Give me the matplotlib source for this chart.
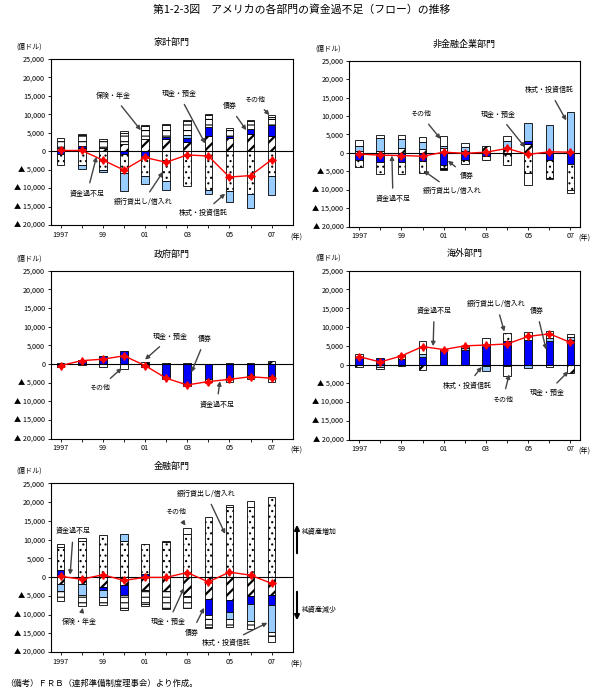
import numpy as np
import matplotlib.pyplot as plt
from matplotlib.patches import FancyArrowPatch

plt.rcParams['font.family'] = ['Noto Sans CJK JP', 'DejaVu Sans']
plt.rcParams['hatch.linewidth'] = 0.8

years = list(range(1997, 2008))
tick_labels = ['1997', '', '99', '', '01', '', '03', '', '05', '', '07']
series_names = ['現金・預金', '債券', '銀行貸出し/借入れ', '株式・投資信託', '保険・年金', 'その他']

# 家計部門
hh_cash = [1000, 800, 800, 2000, 3300, 3200, 2500, 4000, 3500, 4600, 4200]
hh_bond = [-800, 500, 0, -800, -1200, 700, 1000, 2500, 500, 1400, 2900]
hh_loan = [-2800, -3800, -5100, -5200, -5600, -8200, -9500, -10400, -10700, -11700, -6700]
hh_equity = [0, -900, -500, -4800, -2000, -2200, 1000, -1300, -3100, -3600, -5300]
hh_insur = [2700, 3000, 2400, 3000, 3500, 3100, 3600, 3400, 2400, 2200, 2200]
hh_other = [0, 500, 0, 400, 200, 300, 300, 300, 0, 200, 400]
hh_net = [200, 200, -2400, -5100, -1700, -3000, -1000, -1300, -7000, -6600, -2300]

# 非金融企業部門
nf_cash = [600, 600, 1400, 1100, 1300, 400, 2000, 1300, 2300, 0, 0]
nf_bond = [-1900, -2500, -2500, -2100, -3400, -1800, -800, -400, 800, -1900, -3000]
nf_loan = [-1800, -3100, -3100, -3300, -700, -1200, -1000, -3000, -5400, -4900, -7000]
nf_equity = [1300, 3500, 2400, 1800, 700, 1300, 0, 1900, 5100, 7600, 11000]
nf_insur = [0, 0, 0, 0, -500, 0, 0, 0, 0, 0, 0]
nf_other = [1600, 800, 1100, 1500, 2700, 1000, 0, 1400, -3200, -300, -800]
nf_net = [-300, -600, -700, -900, 200, -100, 200, 1200, -400, 300, 200]

# 政府部門
gv_cash = [0, 0, 0, 0, 500, 200, 200, 100, 400, 200, 900]
gv_bond = [-700, 1100, 2100, 3500, -900, -3600, -5500, -4000, -4000, -3000, -3100]
gv_loan = [0] * 11
gv_equity = [0] * 11
gv_insur = [0] * 11
gv_other = [300, -200, -800, -1300, 0, -400, -300, -800, -800, -900, -1800]
gv_net = [-400, 900, 1300, 2200, -400, -3800, -5600, -4700, -4100, -3400, -3800]

# 海外部門
fr_cash = [-600, 0, -400, -1500, -100, 0, -400, -500, 0, -600, -2200]
fr_bond = [2000, 1800, 1600, 2000, 3700, 3800, 4900, 6400, 6600, 6200, 6600]
fr_loan = [0, 0, 0, 0, 0, 0, 0, 2000, 0, 0, 0]
fr_equity = [0, -600, 0, 900, 0, 500, -1400, 0, -800, 800, 700]
fr_insur = [0] * 11
fr_other = [800, -500, 1000, 3500, 400, 600, 2300, -2500, 2100, 2000, 900]
fr_net = [2100, 700, 2300, 4800, 4000, 5000, 5200, 5500, 7500, 8200, 5900]

# 金融部門
fn_cash = [-1800, -1900, -2700, -2200, -3400, -3800, -5000, -5800, -6000, -5000, -4700]
fn_bond = [1900, 0, -800, -2700, 800, 0, 0, -4400, -3300, -2300, -2800]
fn_loan = [6100, 9700, 11300, 9600, 8100, 9400, 11500, 16000, 18700, 18800, 21300]
fn_equity = [-1900, -2800, -1800, 1900, 0, 0, 0, 0, -1900, -4500, -7100]
fn_insur = [-2800, -3100, -2100, -4000, -3800, -4600, -3200, -3000, -2100, -2000, -1000]
fn_other = [800, 600, 0, 0, -500, 200, 1500, -300, 400, 1400, -1700]
fn_net = [200, -600, 600, -900, -100, -100, 1200, -1300, 1300, 500, -1700]

# 現金・預金, 債券, 銀行貸出し, 株式, 保険, その他
styles = [
    dict(color='white', hatch='///', hlw=1.6),
    dict(color='#0000FF', hatch=None, hlw=0.8),
    dict(color='white', hatch='...', hlw=0.8),
    dict(color='#99CCFF', hatch=None, hlw=0.8),
    dict(color='white', hatch='---', hlw=0.8),
    dict(color='white', hatch=None, hlw=0.8),
]


def draw_panel(ax, title, comps, net, xlim, notes):
    x = np.arange(len(years))
    pos = np.zeros(len(years))
    neg = np.zeros(len(years))
    for vals, st in zip(comps, styles):
        for i, v in enumerate(vals):
            if v == 0:
                continue
            if v > 0:
                b = pos[i]
                pos[i] += v
            else:
                b = neg[i]
                neg[i] += v
            with plt.rc_context({'hatch.linewidth': st['hlw']}):
                bars = ax.bar(x[i], v, bottom=b, width=0.36, color=st['color'],
                              hatch=st['hatch'], edgecolor='black', linewidth=0.6, zorder=2)
                for p in bars:
                    if hasattr(p, 'set_hatch_linewidth'):
                        p.set_hatch_linewidth(st['hlw'])
    ax.axhline(0, color='black', lw=0.8, zorder=3)
    ax.plot(x, net, color='red', lw=1.0, marker=(4, 1, 0), ms=5.5, zorder=4)

    ax.set_xlim(*xlim)
    ax.set_ylim(-20000, 25000)
    ax.set_xticks(x)
    ax.set_xticklabels(tick_labels, fontsize=5.2)
    yt = np.arange(-20000, 25001, 5000)
    ax.set_yticks(yt)
    ax.set_yticklabels([f'{v:,}' if v >= 0 else f'▲ {-v:,}' for v in yt], fontsize=5.2)
    ax.tick_params(length=2, width=0.6, pad=2)
    for s in ax.spines.values():
        s.set_linewidth(0.8)

    ax.text(0.5, 1.1, title, transform=ax.transAxes, ha='center', va='center', fontsize=6.5)
    ax.text(-0.09, 1.075, '(億ドル)', transform=ax.transAxes, ha='center', va='center', fontsize=5)
    ax.annotate('(年)', xy=(1.0, 0), xycoords='axes fraction', xytext=(3, -8),
                textcoords='offset points', ha='center', va='center', fontsize=5.2)

    for label, txy, tip in notes:
        ax.annotate(label, xy=tip, xytext=txy, ha='center', va='center', fontsize=5,
                    arrowprops=dict(arrowstyle='-|>', color='#444444', lw=1.0,
                                    mutation_scale=6, shrinkA=3, shrinkB=0),
                    zorder=5)


fig = plt.figure(figsize=(6.04, 6.91), dpi=100)
W, H = 604, 691


def rect(x0, x1, ytop, ybot):
    return [x0 / W, 1 - ybot / H, (x1 - x0) / W, (ybot - ytop) / H]


ax1 = fig.add_axes(rect(50.7, 292.7, 59, 225))
ax2 = fig.add_axes(rect(349, 580, 60.7, 226.7))
ax3 = fig.add_axes(rect(50.7, 292.7, 270.7, 438.7))
ax4 = fig.add_axes(rect(349, 580, 270.7, 439.7))
ax5 = fig.add_axes(rect(50.7, 292.7, 483.3, 652))

left_lim = (-0.47, 11.0)
right_lim = (-0.48, 10.45)

draw_panel(ax1, '家計部門',
           [hh_cash, hh_bond, hh_loan, hh_equity, hh_insur, hh_other], hh_net, left_lim,
           [('保険・年金', (2.5, 15000), (3.8, 5700)),
            ('現金・預金', (5.6, 15500), (6.85, 2100)),
            ('債券', (8.0, 12200), (8.8, 5700)),
            ('その他', (9.2, 13900), (9.9, 9800)),
            ('資金過不足', (1.25, -11500), (1.7, -1500)),
            ('銀行貸出し/借入れ', (3.9, -13800), (4.85, -5600)),
            ('株式・投資信託', (6.75, -16800), (7.8, -11500))])

draw_panel(ax2, '非金融企業部門',
           [nf_cash, nf_bond, nf_loan, nf_equity, nf_insur, nf_other], nf_net, right_lim,
           [('株式・投資信託', (9.0, 17000), (9.8, 8800)),
            ('その他', (2.9, 10500), (3.85, 3800)),
            ('現金・預金', (6.6, 10400), (7.85, 1500)),
            ('債券', (5.1, -6300), (4.2, -2100)),
            ('銀行貸出し/借入れ', (4.4, -10300), (3.05, -4800)),
            ('資金過不足', (1.6, -12500), (1.55, -700))])

draw_panel(ax3, '政府部門',
           [gv_cash, gv_bond, gv_loan, gv_equity, gv_insur, gv_other], gv_net, left_lim,
           [('現金・預金', (5.2, 7200), (4.0, 1200)),
            ('債券', (6.85, 6700), (6.2, -2200)),
            ('その他', (1.85, -6400), (2.9, -1100)),
            ('資金過不足', (7.4, -10900), (7.55, -4600))])

draw_panel(ax4, '海外部門',
           [fr_cash, fr_bond, fr_loan, fr_equity, fr_insur, fr_other], fr_net, right_lim,
           [('資金過不足', (3.55, 14300), (3.5, 4900)),
            ('銀行貸出し/借入れ', (6.5, 16100), (6.87, 8800)),
            ('債券', (8.4, 14300), (8.85, 4000)),
            ('株式・投資信託', (5.1, -5600), (5.8, -600)),
            ('その他', (6.8, -9300), (7.1, -2600)),
            ('現金・預金', (8.9, -7500), (9.9, -1800))])

draw_panel(ax5, '金融部門',
           [fn_cash, fn_bond, fn_loan, fn_equity, fn_insur, fn_other], fn_net, left_lim,
           [('銀行貸出し/借入れ', (6.9, 22200), (7.8, 11500)),
            ('その他', (5.45, 17500), (5.92, 13700)),
            ('資金過不足', (0.6, 12200), (0.45, 600)),
            ('保険・年金', (0.9, -12100), (1.05, -8200)),
            ('現金・預金', (5.1, -12100), (5.85, -2900)),
            ('債券', (6.2, -14900), (6.8, -8200)),
            ('株式・投資信託', (7.85, -17700), (9.8, -12200))])

# 金融部門の右側の注記
fig.text(302 / W, 1 - 532 / H, '純資産増加', fontsize=5, va='center')
fig.text(302 / W, 1 - 610 / H, '純資産減少', fontsize=5, va='center')
fig.add_artist(FancyArrowPatch(
    (297 / W, 1 - 556 / H), (297 / W, 1 - 522 / H), transform=fig.transFigure,
    arrowstyle='-|>', mutation_scale=7, lw=1.5, color='black'))
fig.add_artist(FancyArrowPatch(
    (297 / W, 1 - 589 / H), (297 / W, 1 - 623 / H), transform=fig.transFigure,
    arrowstyle='-|>', mutation_scale=7, lw=1.5, color='black'))

fig.text(0.5, 1 - 10 / H, '第1-2-3図　アメリカの各部門の資金過不足（フロー）の推移',
         ha='center', va='center', fontsize=7.8)
fig.text(5 / W, 1 - 683 / H, '（備考）ＦＲＢ（連邦準備制度理事会）より作成。',
         ha='left', va='center', fontsize=6)

fig.savefig('out.png', dpi=100)
